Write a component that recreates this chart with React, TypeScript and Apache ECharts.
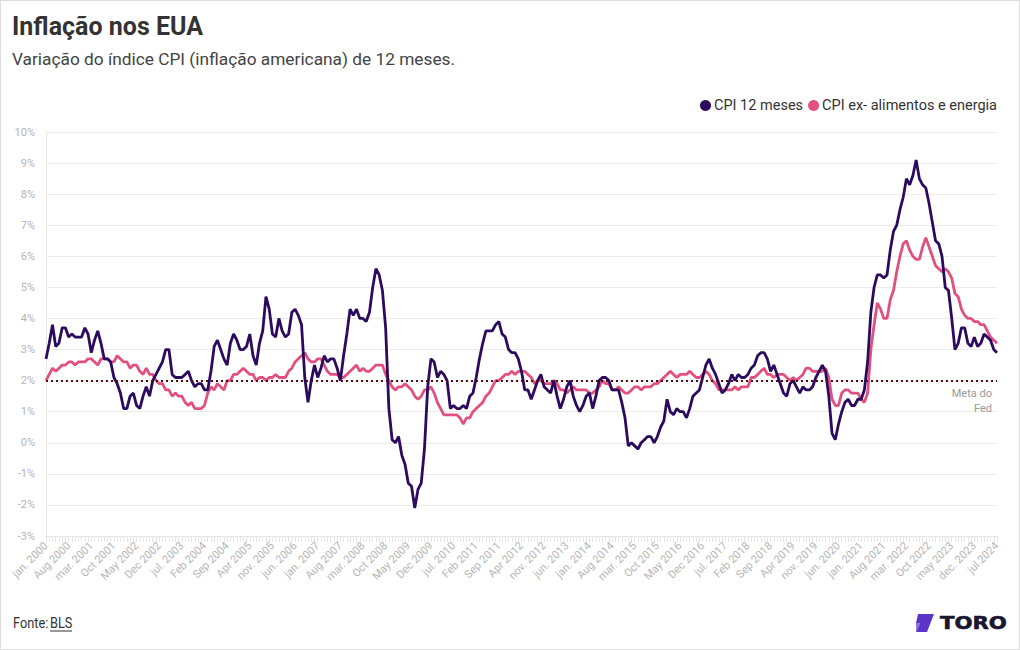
import React, { useEffect, useRef } from "react";
import * as echarts from "echarts";

const startYear = 2000;
const monthLabels = ["jan.", "Feb", "mar.", "Apr", "May", "jun.", "jul.", "Aug", "Sep", "Oct", "nov.", "Dec"];
const labelOverrides: Record<string, string> = {
  "2023-4": "may 2023",
  "2023-11": "dec. 2023",
  "2024-6": "jul 2024",
};

// CPI 12 meses (headline), jan 2000 - jul 2024
const cpiHeadline = [
  2.7, 3.2, 3.8, 3.1, 3.2, 3.7, 3.7, 3.4, 3.5, 3.4, 3.4, 3.4,
  3.7, 3.5, 2.9, 3.3, 3.6, 3.2, 2.7, 2.7, 2.6, 2.1, 1.9, 1.6,
  1.1, 1.1, 1.5, 1.6, 1.2, 1.1, 1.5, 1.8, 1.5, 2.0, 2.2, 2.4,
  2.6, 3.0, 3.0, 2.2, 2.1, 2.1, 2.1, 2.2, 2.3, 2.0, 1.8, 1.9,
  1.9, 1.7, 1.7, 2.3, 3.1, 3.3, 3.0, 2.7, 2.5, 3.2, 3.5, 3.3,
  3.0, 3.0, 3.1, 3.5, 2.8, 2.5, 3.2, 3.6, 4.7, 4.3, 3.5, 3.4,
  4.0, 3.6, 3.4, 3.5, 4.2, 4.3, 4.1, 3.8, 2.1, 1.3, 2.0, 2.5,
  2.1, 2.4, 2.8, 2.6, 2.7, 2.7, 2.4, 2.0, 2.8, 3.5, 4.3, 4.1,
  4.3, 4.0, 4.0, 3.9, 4.2, 5.0, 5.6, 5.4, 4.9, 3.7, 1.1, 0.1,
  0.0, 0.2, -0.4, -0.7, -1.3, -1.4, -2.1, -1.5, -1.3, -0.2, 1.8, 2.7,
  2.6, 2.1, 2.3, 2.2, 2.0, 1.1, 1.2, 1.1, 1.1, 1.2, 1.1, 1.5,
  1.6, 2.1, 2.7, 3.2, 3.6, 3.6, 3.6, 3.8, 3.9, 3.5, 3.4, 3.0,
  2.9, 2.9, 2.7, 2.3, 1.7, 1.7, 1.4, 1.7, 2.0, 2.2, 1.8, 1.7,
  1.6, 2.0, 1.5, 1.1, 1.4, 1.8, 2.0, 1.5, 1.2, 1.0, 1.2, 1.5,
  1.6, 1.1, 1.5, 2.0, 2.1, 2.1, 2.0, 1.7, 1.7, 1.7, 1.3, 0.8,
  -0.1, 0.0, -0.1, -0.2, 0.0, 0.1, 0.2, 0.2, 0.0, 0.2, 0.5, 0.7,
  1.4, 1.0, 0.9, 1.1, 1.0, 1.0, 0.8, 1.1, 1.5, 1.6, 1.7, 2.1,
  2.5, 2.7, 2.4, 2.2, 1.9, 1.6, 1.7, 1.9, 2.2, 2.0, 2.2, 2.1,
  2.1, 2.2, 2.4, 2.5, 2.8, 2.9, 2.9, 2.7, 2.3, 2.5, 2.2, 1.9,
  1.6, 1.5, 1.9, 2.0, 1.8, 1.6, 1.8, 1.7, 1.7, 1.8, 2.1, 2.3,
  2.5, 2.3, 1.5, 0.3, 0.1, 0.6, 1.0, 1.3, 1.4, 1.2, 1.2, 1.4,
  1.4, 1.7, 2.6, 4.2, 5.0, 5.4, 5.4, 5.3, 5.4, 6.2, 6.8, 7.0,
  7.5, 7.9, 8.5, 8.3, 8.6, 9.1, 8.5, 8.3, 8.2, 7.7, 7.1, 6.5,
  6.4, 6.0, 5.0, 4.9, 4.0, 3.0, 3.2, 3.7, 3.7, 3.2, 3.1, 3.4,
  3.1, 3.2, 3.5, 3.4, 3.3, 3.0, 2.9,
];

// CPI ex- alimentos e energia (core), jan 2000 - jul 2024
const cpiCore = [
  2.0, 2.2, 2.4, 2.3, 2.4, 2.5, 2.5, 2.6, 2.6, 2.5, 2.6, 2.6,
  2.6, 2.7, 2.7, 2.6, 2.5, 2.7, 2.7, 2.7, 2.6, 2.6, 2.8, 2.7,
  2.6, 2.6, 2.4, 2.5, 2.5, 2.3, 2.2, 2.4, 2.2, 2.2, 2.0, 1.9,
  1.9, 1.7, 1.7, 1.5, 1.6, 1.5, 1.5, 1.3, 1.2, 1.3, 1.1, 1.1,
  1.1, 1.2, 1.6, 1.8, 1.7, 1.9, 1.8, 1.7, 2.0, 2.0, 2.2, 2.2,
  2.3, 2.4, 2.3, 2.2, 2.2, 2.0, 2.1, 2.1, 2.0, 2.1, 2.1, 2.2,
  2.1, 2.1, 2.1, 2.3, 2.4, 2.6, 2.7, 2.8, 2.9, 2.7, 2.6, 2.6,
  2.7, 2.7, 2.5, 2.3, 2.2, 2.2, 2.2, 2.1, 2.1, 2.2, 2.3, 2.4,
  2.5, 2.3, 2.4, 2.3, 2.3, 2.4, 2.5, 2.5, 2.5, 2.2, 2.0, 1.8,
  1.7, 1.8, 1.8, 1.9, 1.8, 1.7, 1.5, 1.4, 1.5, 1.7, 1.7, 1.8,
  1.6, 1.3, 1.1, 0.9, 0.9, 0.9, 0.9, 0.9, 0.8, 0.6, 0.8, 0.8,
  1.0, 1.1, 1.2, 1.3, 1.5, 1.6, 1.8, 2.0, 2.0, 2.1, 2.2, 2.2,
  2.3, 2.2, 2.3, 2.3, 2.3, 2.2, 2.1, 1.9, 2.0, 2.0, 1.9, 1.9,
  1.9, 2.0, 1.9, 1.7, 1.7, 1.6, 1.7, 1.8, 1.7, 1.7, 1.7, 1.7,
  1.6, 1.6, 1.7, 1.8, 2.0, 1.9, 1.9, 1.7, 1.7, 1.8, 1.7, 1.6,
  1.6, 1.7, 1.8, 1.8, 1.7, 1.8, 1.8, 1.8, 1.9, 1.9, 2.0, 2.1,
  2.2, 2.3, 2.2, 2.1, 2.2, 2.2, 2.2, 2.3, 2.2, 2.1, 2.1, 2.2,
  2.3, 2.2, 2.0, 1.9, 1.7, 1.7, 1.7, 1.7, 1.7, 1.8, 1.7, 1.8,
  1.8, 1.8, 2.1, 2.1, 2.2, 2.3, 2.4, 2.2, 2.2, 2.1, 2.2, 2.2,
  2.2, 2.1, 2.0, 2.1, 2.0, 2.1, 2.2, 2.4, 2.4, 2.3, 2.3, 2.3,
  2.3, 2.4, 2.1, 1.4, 1.2, 1.2, 1.6, 1.7, 1.7, 1.6, 1.6, 1.6,
  1.4, 1.3, 1.6, 3.0, 3.8, 4.5, 4.3, 4.0, 4.0, 4.6, 4.9, 5.5,
  6.0, 6.4, 6.5, 6.2, 6.0, 5.9, 5.9, 6.3, 6.6, 6.3, 6.0, 5.7,
  5.6, 5.5, 5.6, 5.5, 5.3, 4.8, 4.7, 4.3, 4.1, 4.0, 4.0, 3.9,
  3.9, 3.8, 3.8, 3.6, 3.4, 3.3, 3.2,
];

const fedTarget = 2;
const seriesNames = ["CPI 12 meses", "CPI ex- alimentos e energia"];

const categories = cpiHeadline.map((_, i) => {
  const y = startYear + Math.floor(i / 12);
  const m = i % 12;
  return labelOverrides[`${y}-${m}`] ?? `${monthLabels[m]} ${y}`;
});

export default function App() {
  const ref = useRef<HTMLDivElement>(null);

  useEffect(() => {
    if (!ref.current) return;
    const chart = echarts.init(ref.current, undefined, { renderer: "svg" });
    const font = "Roboto";
    chart.setOption({
      animation: false,
      backgroundColor: "#ffffff",
      textStyle: { fontFamily: font },
      title: {
        text: "Inflação nos EUA",
        subtext: "Variação do índice CPI (inflação americana) de 12 meses.",
        left: 6,
        top: 8,
        itemGap: 11,
        textStyle: { fontFamily: font, fontSize: 25, fontWeight: "bold", color: "#333333" },
        subtextStyle: { fontFamily: font, fontSize: 17.3, color: "#444444" },
      },
      legend: {
        right: 17,
        top: 92,
        icon: "circle",
        itemWidth: 11,
        itemHeight: 11,
        itemGap: 5,
        textStyle: { fontFamily: font, fontSize: 14.5, color: "#333333", padding: [0, 0, 0, -2] },
        data: seriesNames,
      },
      grid: { left: 45, right: 22, top: 131, bottom: 113, containLabel: false },
      xAxis: {
        type: "category",
        data: categories,
        boundaryGap: false,
        axisLine: { show: true, onZero: false, lineStyle: { color: "#e6e6e6" } },
        axisTick: { show: true, interval: 0, length: 6, lineStyle: { color: "#e6e6e6" } },
        axisLabel: {
          interval: 6,
          rotate: 45,
          color: "#b5b5b5",
          fontSize: 11,
          fontFamily: font,
          margin: 8,
        },
        splitLine: { show: false },
      },
      yAxis: {
        type: "value",
        min: -3,
        max: 10,
        interval: 1,
        axisLine: { show: true, lineStyle: { color: "#e6e6e6" } },
        axisTick: { show: false },
        axisLabel: { formatter: "{value}%", color: "#b5b5b5", fontSize: 11, fontFamily: font, margin: 11 },
        splitLine: { lineStyle: { color: "#ececec" } },
      },
      series: [
        {
          name: seriesNames[1],
          type: "line",
          data: cpiCore,
          showSymbol: false,
          symbol: "circle",
          lineStyle: { width: 2.8, color: "#e2507f" },
          itemStyle: { color: "#e2507f" },
          z: 2,
        },
        {
          name: seriesNames[0],
          type: "line",
          data: cpiHeadline,
          showSymbol: false,
          symbol: "circle",
          lineStyle: { width: 2.8, color: "#2c0b5f" },
          itemStyle: { color: "#2c0b5f" },
          z: 3,
          markLine: {
            silent: true,
            symbol: "none",
            lineStyle: { type: [2, 3], width: 2, color: "#4a1010" },
            label: {
              show: true,
              position: "insideEndBottom",
              formatter: "Meta do\nFed",
              color: "#999999",
              fontSize: 11,
              fontFamily: font,
              align: "right",
              lineHeight: 15,
            },
            data: [{ yAxis: fedTarget }],
          },
        },
      ],
      graphic: [
        {
          type: "text",
          x: 12,
          y: 614,
          scaleX: 0.88,
          style: { text: "Fonte:", fontFamily: font, fontSize: 14.5, fill: "#333333" },
        },
        {
          type: "text",
          x: 49,
          y: 614,
          scaleX: 0.88,
          style: { text: "BLS", fontFamily: font, fontSize: 14.5, fill: "#333333" },
        },
        {
          type: "line",
          shape: { x1: 49, y1: 630, x2: 71, y2: 630 },
          style: { stroke: "#333333", lineWidth: 1 },
        },
        {
          type: "polygon",
          shape: { points: [[917, 613], [933, 613], [926, 631], [915, 631], [919, 622], [915, 622]] },
          style: { fill: "#5a35c8" },
        },
        {
          type: "polygon",
          shape: { points: [[915, 622], [919, 622], [915, 631]] },
          style: { fill: "#8e6ee6" },
        },
        {
          type: "text",
          x: 939,
          y: 613,
          scaleX: 1.18,
          style: { text: "TORO", fontFamily: "DejaVu Sans", fontWeight: "bold", fontSize: 18, fill: "#1b1530", stroke: "#1b1530", lineWidth: 0.6 },
        },
      ],
    });
    return () => chart.dispose();
  }, []);

  return (
    <div
      style={{
        position: "absolute",
        left: 0,
        top: 0,
        width: 1020,
        height: 650,
        boxSizing: "border-box",
        border: "1px solid #dddddd",
        background: "#ffffff",
      }}
    >
      <div ref={ref} style={{ width: 1018, height: 648 }} />
    </div>
  );
}
